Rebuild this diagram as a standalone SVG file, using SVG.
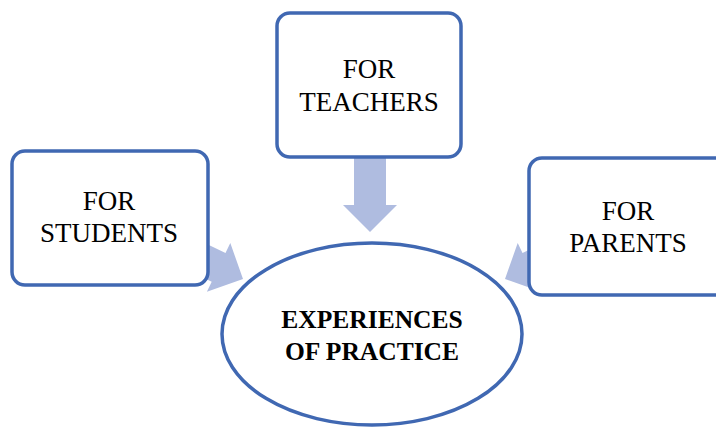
<svg xmlns="http://www.w3.org/2000/svg" width="716" height="428" viewBox="0 0 716 428">
<style>
.box{fill:#fff;stroke:#4068B2;stroke-width:3.5}
.arr{fill:#AFBCE0;stroke:none}
.t{font-family:"Liberation Serif","Times New Roman",serif;font-size:27px;fill:#000;text-anchor:middle}
.b{font-family:"Liberation Serif","Times New Roman",serif;font-size:25.5px;font-weight:bold;fill:#000;text-anchor:middle}
</style>
<rect width="716" height="428" fill="#fff"/>
<g id="connectors">
<polygon class="arr" points="354,150 386,150 386,205 397,205 370,232 343,205 354,205"/>
<polygon class="arr" points="171.4,227 225.5,252.9 230.3,243 243,279 206.9,291.7 211.7,281.7 157.6,255.8"/>
<polygon class="arr" points="576.6,227 522.5,252.9 517.7,243 505,279 541.1,291.7 536.3,281.7 590.4,255.8"/>
</g>
<g id="students">
<rect class="box" x="12" y="151" width="196" height="134" rx="13"/>
<text class="t" x="109" y="210">FOR</text>
<text class="t" x="109" y="242">STUDENTS</text>
</g>
<g id="teachers">
<rect class="box" x="277" y="13" width="184" height="144" rx="13"/>
<text class="t" x="369" y="78">FOR</text>
<text class="t" x="369" y="111">TEACHERS</text>
</g>
<g id="parents">
<rect class="box" x="529" y="158" width="200" height="137" rx="13"/>
<text class="t" x="628" y="220">FOR</text>
<text class="t" x="628" y="252">PARENTS</text>
</g>
<g id="practice">
<ellipse class="box" cx="372" cy="334" rx="150" ry="91"/>
<text class="b" x="372" y="328">EXPERIENCES</text>
<text class="b" x="372" y="360">OF PRACTICE</text>
</g>
</svg>
